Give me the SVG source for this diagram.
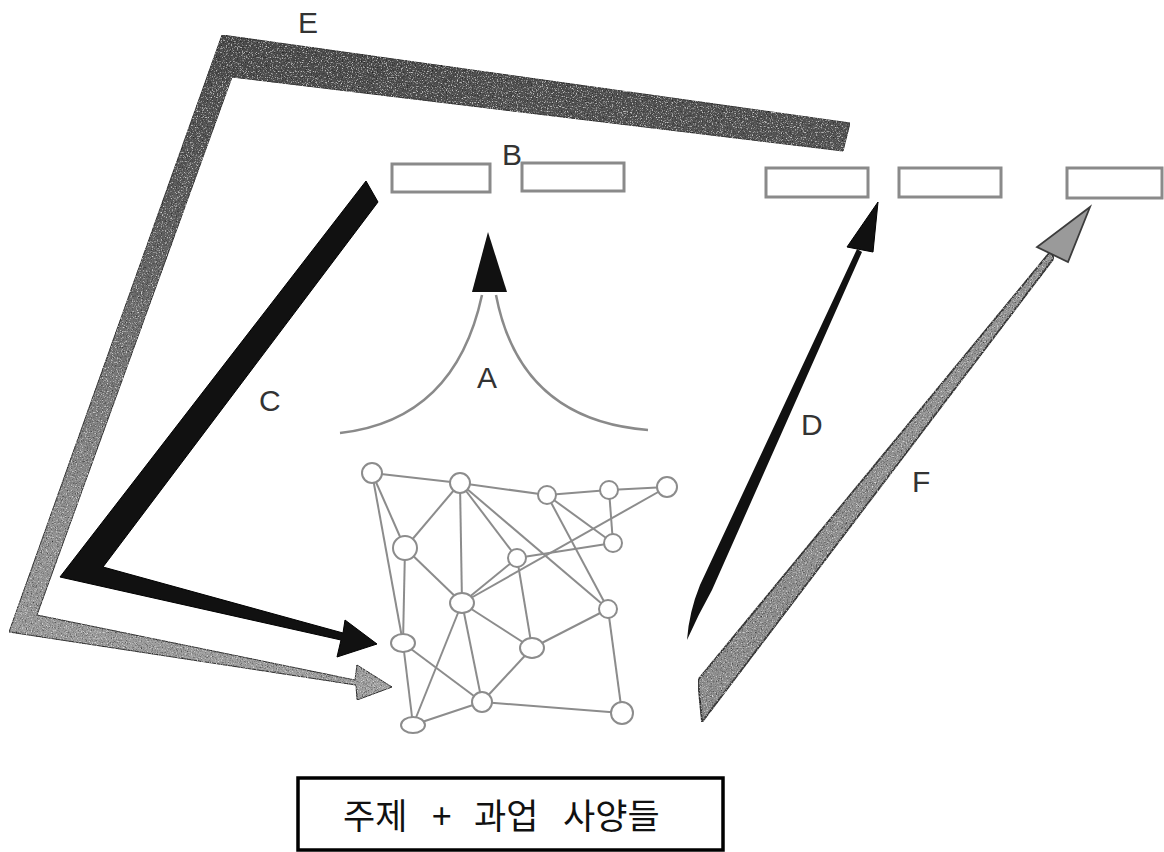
<svg xmlns="http://www.w3.org/2000/svg" width="1164" height="852" viewBox="0 0 1164 852">
  <style>
    .lbl { font-family: "Liberation Sans", Arial, sans-serif; font-size: 30px; fill: #333; }
    .box { fill: #fff; stroke: #8a8a8a; stroke-width: 3; }
    .node { fill: #fff; stroke: #8c8c8c; stroke-width: 2; }
    .edge { stroke: #8c8c8c; stroke-width: 2; fill: none; }
    .arc { stroke: #8a8a8a; stroke-width: 2.5; fill: none; }
    .kr { font-family: "Noto Sans CJK KR", "Noto Sans", sans-serif; font-size: 35px; fill: #111; }
  </style>
  <defs>
    <linearGradient id="eGrad" gradientUnits="userSpaceOnUse" x1="0" y1="35" x2="0" y2="700">
      <stop offset="0" stop-color="#4c4c4c"/>
      <stop offset="0.3" stop-color="#626262"/>
      <stop offset="0.7" stop-color="#909090"/>
      <stop offset="1" stop-color="#a4a4a4"/>
    </linearGradient>
    <linearGradient id="fGrad" gradientUnits="userSpaceOnUse" x1="700" y1="720" x2="1090" y2="207">
      <stop offset="0" stop-color="#8f8f8f"/>
      <stop offset="1" stop-color="#9a9a9a"/>
    </linearGradient>
    <filter id="grain" x="0" y="0" width="100%" height="100%">
      <feTurbulence type="fractalNoise" baseFrequency="0.8" numOctaves="2" seed="4" result="noise"/>
      <feColorMatrix in="noise" type="matrix" values="0 0 0 0 0  0 0 0 0 0  0 0 0 0 0  2.2 0 0 0 -1.05" result="dark"/>
      <feComposite in="dark" in2="SourceGraphic" operator="in" result="darkIn"/>
      <feColorMatrix in="noise" type="matrix" values="0 0 0 0 1  0 0 0 0 1  0 0 0 0 1  0 -2.2 0 0 0.95" result="light"/>
      <feComposite in="light" in2="SourceGraphic" operator="in" result="lightIn"/>
      <feMerge>
        <feMergeNode in="SourceGraphic"/>
        <feMergeNode in="darkIn"/>
        <feMergeNode in="lightIn"/>
      </feMerge>
    </filter>
  </defs>
  <rect width="1164" height="852" fill="#fff"/>

  <g id="connectors">
    <!-- E band -->
    <path id="arrow-E" d="M222,35 L850,123 L843,151 L232,77 L37,615 L355,680 L357,665 L392,687 L357,700 L356,685 L9,632 Z" fill="url(#eGrad)" stroke="#3a3a3a" stroke-width="1" filter="url(#grain)"/>
    <!-- C band -->
    <path id="arrow-C" d="M366,181 L378,202 L103,567 L343,633 L345,620 L377,644 L337,657 L341,640 L60,577 Z" fill="#111" stroke="#000" stroke-width="1"/>
    <!-- D -->
    <path id="arrow-D" d="M687,640 Q689,612 700,585 L857,249 L862,252 L712,590 Q698,615 687,640 Z" fill="#111"/>
    <path d="M878,202 L847,247 L873,252 Z" fill="#111" stroke="#000" stroke-width="1"/>
    <!-- F -->
    <path id="arrow-F" d="M698,680 L1050,252 L1054,258 L702,722 Z" fill="url(#fGrad)" stroke="#3c3c3c" stroke-width="1.8" filter="url(#grain)"/>
    <path d="M1090,207 L1037,247 L1068,262 Z" fill="#9a9a9a" stroke="#3c3c3c" stroke-width="1.8"/>
    <!-- A -->
    <path class="arc" d="M482,295 Q455,420 340,433"/>
    <path class="arc" d="M496,295 Q520,420 648,430"/>
    <path d="M488,232 L472,292 L507,292 Z" fill="#111"/>

    <!-- network edges -->
    <g id="network-edges">
      <line class="edge" x1="372" y1="473" x2="460" y2="483"/>
      <line class="edge" x1="372" y1="473" x2="405" y2="548"/>
      <line class="edge" x1="372" y1="473" x2="403" y2="643"/>
      <line class="edge" x1="460" y1="483" x2="405" y2="548"/>
      <line class="edge" x1="460" y1="483" x2="462" y2="603"/>
      <line class="edge" x1="460" y1="483" x2="547" y2="495"/>
      <line class="edge" x1="460" y1="483" x2="517" y2="558"/>
      <line class="edge" x1="460" y1="483" x2="608" y2="609"/>
      <line class="edge" x1="547" y1="495" x2="609" y2="490"/>
      <line class="edge" x1="609" y1="490" x2="667" y2="487"/>
      <line class="edge" x1="547" y1="495" x2="613" y2="543"/>
      <line class="edge" x1="547" y1="495" x2="608" y2="609"/>
      <line class="edge" x1="609" y1="490" x2="613" y2="543"/>
      <line class="edge" x1="667" y1="487" x2="462" y2="603"/>
      <line class="edge" x1="517" y1="558" x2="613" y2="543"/>
      <line class="edge" x1="517" y1="558" x2="462" y2="603"/>
      <line class="edge" x1="517" y1="558" x2="532" y2="648"/>
      <line class="edge" x1="405" y1="548" x2="462" y2="603"/>
      <line class="edge" x1="405" y1="548" x2="403" y2="643"/>
      <line class="edge" x1="462" y1="603" x2="532" y2="648"/>
      <line class="edge" x1="462" y1="603" x2="482" y2="702"/>
      <line class="edge" x1="462" y1="603" x2="413" y2="725"/>
      <line class="edge" x1="608" y1="609" x2="532" y2="648"/>
      <line class="edge" x1="608" y1="609" x2="622" y2="713"/>
      <line class="edge" x1="403" y1="643" x2="482" y2="702"/>
      <line class="edge" x1="403" y1="643" x2="413" y2="725"/>
      <line class="edge" x1="532" y1="648" x2="482" y2="702"/>
      <line class="edge" x1="482" y1="702" x2="413" y2="725"/>
      <line class="edge" x1="482" y1="702" x2="622" y2="713"/>
    </g>
  </g>

  <g id="n1"><circle class="node" cx="372" cy="473" r="10"/></g>
  <g id="n2"><circle class="node" cx="460" cy="483" r="10"/></g>
  <g id="n3"><circle class="node" cx="547" cy="495" r="9"/></g>
  <g id="n4"><circle class="node" cx="609" cy="490" r="9"/></g>
  <g id="n5"><circle class="node" cx="667" cy="487" r="10"/></g>
  <g id="n6"><circle class="node" cx="405" cy="548" r="12"/></g>
  <g id="n7"><circle class="node" cx="517" cy="558" r="9"/></g>
  <g id="n8"><circle class="node" cx="613" cy="543" r="9"/></g>
  <g id="n9"><ellipse class="node" cx="462" cy="603" rx="12" ry="10"/></g>
  <g id="n10"><circle class="node" cx="608" cy="609" r="9"/></g>
  <g id="n11"><ellipse class="node" cx="403" cy="643" rx="12" ry="9"/></g>
  <g id="n12"><ellipse class="node" cx="532" cy="648" rx="12" ry="10"/></g>
  <g id="n13"><circle class="node" cx="482" cy="702" r="10"/></g>
  <g id="n14"><ellipse class="node" cx="413" cy="725" rx="12" ry="8"/></g>
  <g id="n15"><circle class="node" cx="622" cy="713" r="11"/></g>

  <g id="boxes">
    <g id="b1"><rect class="box" x="392" y="164" width="98" height="28"/></g>
    <g id="b2"><rect class="box" x="522" y="163" width="102" height="28"/></g>
    <g id="b3"><rect class="box" x="766" y="168" width="102" height="29"/></g>
    <g id="b4"><rect class="box" x="899" y="168" width="102" height="29"/></g>
    <g id="b5"><rect class="box" x="1067" y="168" width="95" height="30"/></g>
  </g>

  <g id="labels">
    <text class="lbl" x="298" y="33">E</text>
    <text class="lbl" x="502" y="165">B</text>
    <text class="lbl" x="477" y="388">A</text>
    <text class="lbl" x="259" y="411">C</text>
    <text class="lbl" x="801" y="435">D</text>
    <text class="lbl" x="912" y="492">F</text>
  </g>

  <g id="spec">
    <rect x="298" y="778" width="425" height="72" fill="#fff" stroke="#000" stroke-width="3.5"/>
    <text class="kr" y="829"><tspan x="343">주제</tspan><tspan x="432">+</tspan><tspan x="474">과업</tspan><tspan x="563">사양들</tspan></text>
  </g>
</svg>
